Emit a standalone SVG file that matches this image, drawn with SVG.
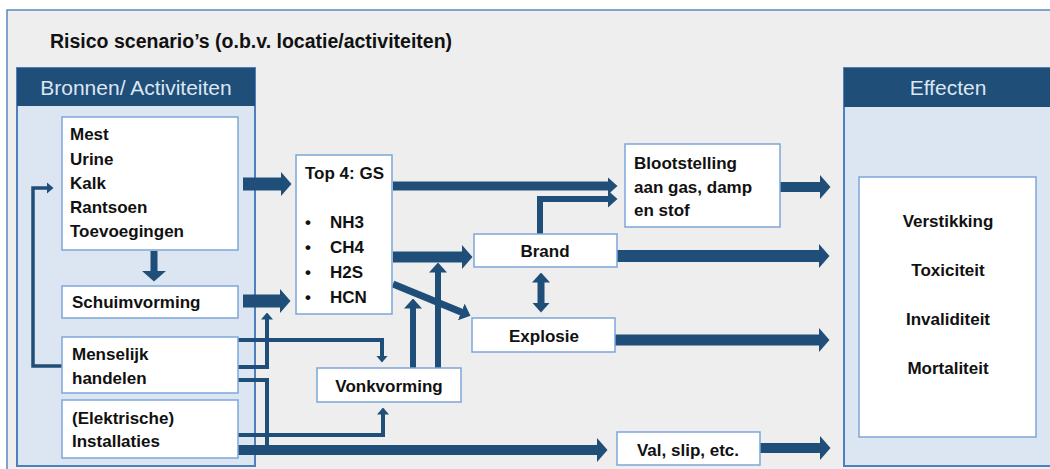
<svg xmlns="http://www.w3.org/2000/svg" width="1050" height="469" viewBox="0 0 1050 469">
<defs>
<style>
.panel{fill:#dce6f2;stroke:#4f7fbf;stroke-width:2}
.hdr{fill:#1f4e79}
.hdrtxt{font-family:"Liberation Sans",Arial,sans-serif;font-size:21px;fill:#dce6f2;text-anchor:middle}
.box{fill:#ffffff;stroke:#7ea6d8;stroke-width:1.5}
.t{font-family:"Liberation Sans",Arial,sans-serif;font-size:17px;font-weight:bold;fill:#111}
.c{text-anchor:middle}
.ln{fill:none;stroke:#1f4e79;stroke-linejoin:miter}
</style>
<marker id="big" viewBox="0 0 11 25" markerUnits="userSpaceOnUse" markerWidth="11" markerHeight="25" refX="0.5" refY="12.5" orient="auto"><path d="M0,0 L11,12.5 L0,25 Z" fill="#1f4e79"/></marker>
<marker id="med" viewBox="0 0 10 18" markerUnits="userSpaceOnUse" markerWidth="10" markerHeight="18" refX="0.5" refY="9" orient="auto"><path d="M0,0 L10,9 L0,18 Z" fill="#1f4e79"/></marker>
<marker id="medr" viewBox="0 0 10 18" markerUnits="userSpaceOnUse" markerWidth="10" markerHeight="18" refX="0.5" refY="9" orient="auto-start-reverse"><path d="M0,0 L10,9 L0,18 Z" fill="#1f4e79"/></marker>
<marker id="sm" viewBox="0 0 7 12" markerUnits="userSpaceOnUse" markerWidth="7" markerHeight="12" refX="0.5" refY="6" orient="auto"><path d="M0,0 L7,6 L0,12 Z" fill="#1f4e79"/></marker>
</defs>
<rect x="0" y="0" width="1050" height="469" fill="#ffffff"/>
<rect id="frame" x="7" y="10" width="1060" height="470" fill="#eeeeee" stroke="#5a86c0" stroke-width="1.5"/>
<text class="t" x="50" y="48" style="font-size:19.5px">Risico scenario’s (o.b.v. locatie/activiteiten)</text>

<g id="bronnen">
<rect class="panel" x="17" y="68" width="238" height="398"/>
<rect class="hdr" x="17" y="68" width="238" height="38"/>
<text class="hdrtxt" x="136" y="95">Bronnen/ Activiteiten</text>
</g>

<g id="effecten">
<rect class="panel" x="844" y="68" width="220" height="398"/>
<rect class="hdr" x="844" y="68" width="220" height="39"/>
<text class="hdrtxt" x="948" y="95">Effecten</text>
<rect class="box" x="859" y="177" width="177" height="260"/>
<text class="t c" x="948" y="227">Verstikking</text>
<text class="t c" x="948" y="276">Toxiciteit</text>
<text class="t c" x="948" y="325">Invaliditeit</text>
<text class="t c" x="948" y="374">Mortaliteit</text>
</g>

<g id="connectors">
<path class="ln" d="M243,184 H281" stroke-width="13" marker-end="url(#big)"/>
<path class="ln" d="M243,301 H280" stroke-width="13" marker-end="url(#big)"/>
<path class="ln" d="M393,186 H608" stroke-width="9" marker-end="url(#med)"/>
<path class="ln" d="M540,234 V199 H608" stroke-width="6" marker-end="url(#med)"/>
<path class="ln" d="M393,257 H462" stroke-width="11" marker-end="url(#big)"/>
<path class="ln" d="M393,284 L461.7,312.2" stroke-width="7" marker-end="url(#med)"/>
<path class="ln" d="M541,282 V303" stroke-width="7" marker-start="url(#medr)" marker-end="url(#medr)"/>
<path class="ln" d="M413,368 V308" stroke-width="6" marker-end="url(#med)"/>
<path class="ln" d="M438,368 V272" stroke-width="6" marker-end="url(#med)"/>
<path class="ln" d="M780,187 H820" stroke-width="10" marker-end="url(#big)"/>
<path class="ln" d="M617,256 H819" stroke-width="12" marker-end="url(#big)"/>
<path class="ln" d="M615,340 H819" stroke-width="11" marker-end="url(#big)"/>
<path class="ln" d="M238,450 H597" stroke-width="10" marker-end="url(#big)"/>
<path class="ln" d="M760,448 H820" stroke-width="10" marker-end="url(#big)"/>
<path class="ln" d="M238,340 H382 V356" stroke-width="4" marker-end="url(#sm)"/>
<path class="ln" d="M238,435 H383 V414" stroke-width="4" marker-end="url(#sm)"/>
<path class="ln" d="M238,367 H267 V319" stroke-width="4" marker-end="url(#sm)"/>
<path class="ln" d="M238,380 H267 V445" stroke-width="4"/>
<path class="ln" d="M62,366 H33 V188 H47" stroke-width="3.5" marker-end="url(#sm)"/>
<path class="ln" d="M154,251 V271" stroke-width="7" marker-end="url(#big)"/>
</g>

<g id="bronnen-mest">
<rect class="box" x="62" y="117" width="176" height="133"/>
<text class="t" x="70" y="140">Mest</text>
<text class="t" x="70" y="165">Urine</text>
<text class="t" x="70" y="189">Kalk</text>
<text class="t" x="70" y="213">Rantsoen</text>
<text class="t" x="70" y="237">Toevoegingen</text>
</g>
<g id="schuimvorming">
<rect class="box" x="62" y="286" width="176" height="32"/>
<text class="t" x="72" y="308">Schuimvorming</text>
</g>
<g id="menselijk">
<rect class="box" x="62" y="337" width="176" height="56"/>
<text class="t" x="72" y="360">Menselijk</text>
<text class="t" x="72" y="384">handelen</text>
</g>
<g id="installaties">
<rect class="box" x="62" y="400" width="176" height="58"/>
<text class="t" x="72" y="424">(Elektrische)</text>
<text class="t" x="72" y="447">Installaties</text>
</g>
<g id="top4">
<rect class="box" x="296" y="155" width="96" height="159"/>
<text class="t" x="305" y="179">Top 4: GS</text>
<text class="t" x="305" y="228">•</text><text class="t" x="330" y="228">NH3</text>
<text class="t" x="305" y="253">•</text><text class="t" x="330" y="253">CH4</text>
<text class="t" x="305" y="278">•</text><text class="t" x="330" y="278">H2S</text>
<text class="t" x="305" y="303">•</text><text class="t" x="330" y="303">HCN</text>
</g>
<g id="blootstelling">
<rect class="box" x="625" y="144" width="155" height="83"/>
<text class="t" x="634" y="169">Blootstelling</text>
<text class="t" x="634" y="193">aan gas, damp</text>
<text class="t" x="634" y="216">en stof</text>
</g>
<g id="brand">
<rect class="box" x="474" y="234" width="143" height="33"/>
<text class="t c" x="545" y="257">Brand</text>
</g>
<g id="explosie">
<rect class="box" x="472" y="318" width="143" height="34"/>
<text class="t c" x="544" y="342">Explosie</text>
</g>
<g id="vonkvorming">
<rect class="box" x="317" y="368" width="144" height="34"/>
<text class="t c" x="389" y="392">Vonkvorming</text>
</g>
<g id="val">
<rect class="box" x="617" y="432" width="143" height="33"/>
<text class="t c" x="688" y="456">Val, slip, etc.</text>
</g>
</svg>
